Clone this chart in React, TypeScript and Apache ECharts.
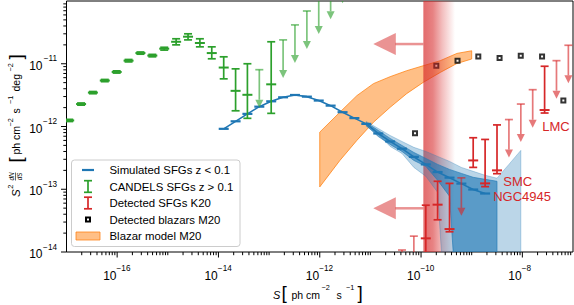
import React, { useEffect, useRef } from 'react';
import * as echarts from 'echarts';

const FONT = '"Liberation Sans", Arial, Helvetica, sans-serif';

// axis ranges in decades (log10 of the values)
const X_MIN = -17, X_MAX = -7, Y_MIN = -14, Y_MAX = -10;
const X_LABEL_DECADES = [-16, -14, -12, -10, -8];
const Y_LABEL_DECADES = [-14, -13, -12, -11];

// Simulated SFGs z < 0.1
const simS = [1.27e-14, 2.18e-14, 3.73e-14, 6.41e-14, 1.10e-13, 1.89e-13, 3.24e-13, 5.57e-13, 9.55e-13, 1.64e-12, 2.82e-12, 4.83e-12, 8.30e-12, 1.43e-11, 2.45e-11, 4.20e-11, 7.21e-11, 1.24e-10, 2.12e-10, 3.65e-10, 6.25e-10, 1.07e-9, 1.84e-9];
const simF = [9.18e-13, 1.21e-12, 1.59e-12, 2.07e-12, 2.52e-12, 2.92e-12, 3.18e-12, 2.99e-12, 2.59e-12, 2.15e-12, 1.69e-12, 1.36e-12, 1.10e-12, 7.74e-13, 5.78e-13, 4.43e-13, 3.28e-13, 2.49e-13, 1.88e-13, 1.53e-13, 1.23e-13, 9.9e-14, 8.55e-14];
const simInnerS = [8.30e-12, 1.43e-11, 2.45e-11, 4.20e-11, 7.21e-11, 1.24e-10, 2.12e-10, 3.65e-10, 6.25e-10, 1.07e-9, 1.84e-9, 3.16e-9];
const simInnerHi = [1.155e-12, 8.65e-13, 6.46e-13, 4.99e-13, 3.86e-13, 3.10e-13, 2.49e-13, 2.07e-13, 1.79e-13, 1.55e-13, 1.44e-13, 1.34e-13];
const simInnerLo = [1.04e-12, 6.93e-13, 5.18e-13, 4.01e-13, 2.88e-13, 2.32e-13, 1.39e-13, 7.74e-14, 0, 0, 0, 0];
const simOuterS = [8.30e-12, 1.43e-11, 2.45e-11, 4.20e-11, 7.21e-11, 1.24e-10, 2.12e-10, 3.65e-10, 6.25e-10, 1.07e-9, 1.84e-9, 3.16e-9, 5.43e-9, 9.33e-9];
const simOuterHi = [1.20e-12, 9.29e-13, 7.19e-13, 5.78e-13, 4.65e-13, 4.01e-13, 3.34e-13, 2.78e-13, 2.23e-13, 1.93e-13, 1.67e-13, 1.50e-13, 2.49e-13, 4.16e-13];
const simOuterLo = [1.0e-12, 7.46e-13, 4.82e-13, 3.72e-13, 2.23e-13, 1.61e-13, 8.95e-14, 0, 0, 0, 0, 0, 0, 0];

// CANDELS SFGs z > 0.1
const candelsS = [1.13e-17, 1.94e-17, 3.32e-17, 5.70e-17, 9.79e-17, 1.68e-16, 2.88e-16, 4.95e-16, 8.50e-16, 1.46e-15, 2.51e-15, 4.30e-15, 7.38e-15, 1.27e-14, 2.18e-14, 3.73e-14, 1.10e-13];
const candelsF = [1.25e-12, 2.28e-12, 3.47e-12, 5.4e-12, 7.4e-12, 1.12e-11, 1.48e-11, 1.35e-11, 1.74e-11, 2.24e-11, 2.7e-11, 2.14e-11, 1.48e-11, 8.7e-12, 3.7e-12, 3.2e-12, 4.7e-12];
const candelsLo = [1.20e-12, 2.19e-12, 3.33e-12, 5.18e-12, 7.1e-12, 1.07e-11, 1.42e-11, 1.29e-11, 1.65e-11, 2.0e-11, 2.4e-11, 1.86e-11, 1.2e-11, 5.75e-12, 1.78e-12, 1.35e-12, 1.62e-12];
const candelsHi = [1.30e-12, 2.37e-12, 3.61e-12, 5.62e-12, 7.7e-12, 1.17e-11, 1.54e-11, 1.41e-11, 1.83e-11, 2.5e-11, 3.0e-11, 2.5e-11, 1.86e-11, 1.29e-11, 8.3e-12, 1.0e-11, 2.24e-11];
const candelsLimS = [6.41e-14, 1.89e-13, 3.24e-13, 5.57e-13, 9.55e-13, 1.64e-12, 2.82e-12];
const candelsLimF = [8.04e-12, 2.40e-11, 4.16e-11, 6.93e-11, 1.20e-10, 2.07e-10, 3.72e-10];

// Detected SFGs K20
const k20S = [1.24e-10, 2.12e-10, 3.65e-10, 1.07e-9, 1.84e-9, 3.16e-9, 2.75e-8];
const k20F = [1.65e-14, 5.68e-14, 2.32e-14, 2.88e-13, 1.24e-13, 2.00e-13, 1.83e-12];
const k20Lo = [5.0e-15, 3.26e-14, 2.10e-14, 2.23e-13, 1.10e-13, 1.77e-13, 1.64e-12];
const k20Hi = [5.57e-14, 1.34e-13, 1.24e-13, 6.62e-13, 6.22e-13, 1.06e-12, 9.12e-12];
const k20LimS = [4.20e-11, 7.21e-11, 6.25e-10, 5.43e-9, 9.33e-9, 1.60e-8, 4.72e-8, 8.10e-8];
const k20LimF = [1.076e-14, 1.79e-14, 1.52e-13, 1.29e-12, 2.28e-12, 3.86e-12, 1.12e-11, 1.97e-11];

// Detected blazars M20
const blazarS = [7.6e-11, 2.0e-10, 5.25e-10, 1.35e-9, 3.55e-9, 9.3e-9, 2.45e-8, 6.45e-8];
const blazarF = [7.83e-13, 9.29e-12, 1.12e-11, 1.31e-11, 1.23e-11, 1.34e-11, 1.31e-11, 2.59e-12];

// Blazar model M20
const modelS = [1.0e-12, 2.5e-12, 5.4e-12, 1.15e-11, 2.45e-11, 5.2e-11, 1.1e-10, 2.4e-10, 5.1e-10, 1.0e-9];
const modelHi = [8.13e-13, 1.69e-12, 3.10e-12, 4.82e-12, 6.22e-12, 7.74e-12, 9.29e-12, 1.12e-11, 1.46e-11, 1.61e-11];
const modelLo = [1.09e-13, 2.88e-13, 6.0e-13, 1.17e-12, 2.02e-12, 3.34e-12, 5.04e-12, 7.28e-12, 1.01e-11, 1.19e-11];

// sensitivity band and arrows
const sensS = [1.11e-10, 4.68e-10];
const sensArrowF = [2.06e-11, 4.97e-14];
const sensArrowTipS = [1.14e-11, 1.14e-11];

// galaxy labels
const galaxyNames = ['LMC', 'SMC', 'NGC4945'];
const galaxyLabelS = [4.6e-8, 8.1e-9, 9.9e-9];
const galaxyLabelF = [1.0e-12, 1.32e-13, 7.8e-14];

const BLUE = '#1f77b4';
const GREEN = '#2ca02c';
const GREEN_L = 'rgba(44,160,44,0.62)';
const RED = '#d62728';
const RED_L = 'rgba(214,39,40,0.62)';

const lg = (v: number) => Math.log10(Math.max(v, 1e-18));

function errSeries(S: number[], F: number[], lo: number[], hi: number[], color: string, z: number) {
  return {
    type: 'custom', z, clip: true,
    data: S.map((s, i) => [lg(s), lg(F[i]), lg(lo[i]), lg(hi[i])]),
    renderItem: (p: any, api: any) => {
      const x = api.value(0);
      const c = api.coord([x, api.value(1)]);
      const l = api.coord([x, api.value(2)]);
      const h = api.coord([x, api.value(3)]);
      const st = { stroke: color, lineWidth: 1.7 };
      return {
        type: 'group', children: [
          { type: 'line', shape: { x1: c[0], y1: h[1], x2: c[0], y2: l[1] }, style: st },
          { type: 'line', shape: { x1: c[0] - 4, y1: h[1], x2: c[0] + 4, y2: h[1] }, style: st },
          { type: 'line', shape: { x1: c[0] - 4, y1: l[1], x2: c[0] + 4, y2: l[1] }, style: st },
          { type: 'line', shape: { x1: c[0] - 5, y1: c[1], x2: c[0] + 5, y2: c[1] }, style: { stroke: color, lineWidth: 2 } },
        ],
      };
    },
  };
}

function limSeries(S: number[], F: number[], color: string, z: number) {
  return {
    type: 'custom', z, clip: true,
    data: S.map((s, i) => [lg(s), lg(F[i])]),
    renderItem: (p: any, api: any) => {
      const c = api.coord([api.value(0), api.value(1)]);
      const L = 38, hl = 8, hw = 4;
      const st = { stroke: color, lineWidth: 1.7 };
      return {
        type: 'group', children: [
          { type: 'line', shape: { x1: c[0] - 4, y1: c[1], x2: c[0] + 4, y2: c[1] }, style: st },
          { type: 'line', shape: { x1: c[0], y1: c[1], x2: c[0], y2: c[1] + L - hl }, style: st },
          { type: 'polygon', shape: { points: [[c[0] - hw, c[1] + L - hl], [c[0] + hw, c[1] + L - hl], [c[0], c[1] + L]] }, style: { fill: color } },
        ],
      };
    },
  };
}

function bandSeries(S: number[], hi: number[], lo: number[], fill: string, stroke: string, z: number) {
  return {
    type: 'custom', z, clip: true,
    data: [[lg(S[0]), lg(hi[0])]],
    renderItem: (p: any, api: any) => {
      const pts: number[][] = [];
      for (let i = 0; i < S.length; i++) pts.push(api.coord([lg(S[i]), lg(hi[i])]));
      for (let i = S.length - 1; i >= 0; i--) pts.push(api.coord([lg(S[i]), Math.max(lg(lo[i]), -16)]));
      return { type: 'polygon', shape: { points: pts }, style: { fill, stroke, lineWidth: 1 } };
    },
  };
}

function buildOption() {
  // axis tick positions (major / minor), drawn through the axes' coordinates
  const ticks: number[][] = [];
  for (let n = X_MIN; n < X_MAX; n++) {
    if (n > X_MIN) ticks.push([n, X_LABEL_DECADES.includes(n) ? 5.5 : 3.2, 0]);
    for (let k = 2; k <= 9; k++) ticks.push([n + Math.log10(k), 3.2, 0]);
  }
  for (let n = Y_MIN; n < Y_MAX; n++) {
    if (n > Y_MIN || Y_LABEL_DECADES.includes(n)) ticks.push([n, 5.5, 1]);
    for (let k = 2; k <= 9; k++) ticks.push([n + Math.log10(k), 3.2, 1]);
  }
  const labels = [...X_LABEL_DECADES.map(v => [v, 0]), ...Y_LABEL_DECADES.map(v => [v, 1])];

  const sup = (n: number) => '\u2212' + Math.abs(n);

  const series: any[] = [
    bandSeries(modelS, modelHi, modelLo, 'rgba(255,127,14,0.5)', 'rgba(255,127,14,0.75)', 1),
    {
      type: 'scatter', z: 2, symbol: 'rect', symbolSize: 4,
      itemStyle: { color: '#fff', borderColor: '#000', borderWidth: 2 },
      data: blazarS.map((s, i) => [lg(s), lg(blazarF[i])]),
    },
    {
      type: 'custom', z: 3, clip: true,
      data: [[lg(sensS[0]), Y_MAX]],
      renderItem: (p: any, api: any) => {
        const a = api.coord([lg(sensS[0]), Y_MAX]);
        const b = api.coord([lg(sensS[1]), Y_MIN]);
        return {
          type: 'rect', shape: { x: a[0], y: a[1], width: b[0] - a[0], height: b[1] - a[1] },
          style: {
            fill: {
              type: 'linear', x: 0, y: 0, x2: 1, y2: 0, colorStops: [
                { offset: 0, color: 'rgba(214,39,40,0.68)' },
                { offset: 0.3, color: 'rgba(214,39,40,0.58)' },
                { offset: 0.6, color: 'rgba(214,39,40,0.3)' },
                { offset: 1, color: 'rgba(214,39,40,0)' },
              ],
            },
          },
        };
      },
    },
    {
      type: 'custom', z: 3, clip: true,
      data: sensArrowF.map((f, i) => [lg(sensS[0]), lg(f), lg(sensArrowTipS[i])]),
      renderItem: (p: any, api: any) => {
        const a = api.coord([api.value(0), api.value(1)]);
        const t = api.coord([api.value(2), api.value(1)]);
        const col = 'rgba(214,39,40,0.5)';
        return {
          type: 'group', children: [
            { type: 'line', shape: { x1: a[0], y1: a[1], x2: t[0] + 22, y2: t[1] }, style: { stroke: col, lineWidth: 2.5 } },
            { type: 'polygon', shape: { points: [[t[0], t[1]], [t[0] + 22.5, t[1] - 11], [t[0] + 22.5, t[1] + 11]] }, style: { fill: col } },
          ],
        };
      },
    },
    bandSeries(simOuterS, simOuterHi, simOuterLo, 'rgba(31,119,180,0.3)', 'rgba(31,119,180,0.3)', 4),
    bandSeries(simInnerS, simInnerHi, simInnerLo, 'rgba(31,119,180,0.62)', 'rgba(31,119,180,0.62)', 4),
    {
      type: 'line', z: 5, clip: true, symbol: 'rect', symbolSize: [10, 2.2], showSymbol: true,
      itemStyle: { color: BLUE }, lineStyle: { color: BLUE, width: 1.6 },
      data: simS.map((s, i) => [lg(s), lg(simF[i])]),
    },
    errSeries(candelsS, candelsF, candelsLo, candelsHi, GREEN, 6),
    limSeries(candelsLimS, candelsLimF, GREEN_L, 6),
    errSeries(k20S, k20F, k20Lo, k20Hi, RED, 6),
    limSeries(k20LimS, k20LimF, RED_L, 6),
    {
      type: 'custom', z: 7,
      data: galaxyNames.map((n, i) => [lg(galaxyLabelS[i]), lg(galaxyLabelF[i]), i]),
      renderItem: (p: any, api: any) => {
        const c = api.coord([api.value(0), api.value(1)]);
        return {
          type: 'text', x: c[0], y: c[1],
          style: { text: galaxyNames[api.value(2)], fill: RED, fontSize: 13, fontFamily: FONT, align: 'center', verticalAlign: 'middle' },
        };
      },
    },
    {
      type: 'custom', z: 8, clip: false,
      data: ticks,
      renderItem: (p: any, api: any) => {
        const v = api.value(0), len = api.value(1), ax = api.value(2);
        if (ax === 0) {
          const c = api.coord([v, Y_MIN]);
          return { type: 'line', shape: { x1: c[0], y1: c[1], x2: c[0], y2: c[1] + len }, style: { stroke: '#000', lineWidth: 1 } };
        }
        const c = api.coord([X_MIN, v]);
        return { type: 'line', shape: { x1: c[0], y1: c[1], x2: c[0] - len, y2: c[1] }, style: { stroke: '#000', lineWidth: 1 } };
      },
    },
    {
      type: 'custom', z: 8, clip: false,
      data: labels,
      renderItem: (p: any, api: any) => {
        const v = api.value(0), ax = api.value(1);
        const base = { fill: '#000', fontFamily: FONT, verticalAlign: 'middle' };
        if (ax === 0) {
          const c = api.coord([v, Y_MIN]);
          return {
            type: 'group', children: [
              { type: 'text', x: c[0] - 14, y: c[1] + 24, style: { ...base, text: '10', fontSize: 12, align: 'left' } },
              { type: 'text', x: c[0] - 0.6, y: c[1] + 16.5, style: { ...base, text: sup(v), fontSize: 8.2, align: 'left' } },
            ],
          };
        }
        const c = api.coord([X_MIN, v]);
        return {
          type: 'group', children: [
            { type: 'text', x: c[0] - 24, y: c[1] + 2, style: { ...base, text: '10', fontSize: 12, align: 'right' } },
            { type: 'text', x: c[0] - 9.5, y: c[1] - 5, style: { ...base, text: sup(v), fontSize: 8.2, align: 'right' } },
          ],
        };
      },
    },
  ];

  const t = (text: string, x: number, y: number, fontSize: number, extra: any = {}) => ({
    type: 'text', x, y,
    style: { text, fontSize, fontFamily: FONT, fill: '#000', align: 'left', verticalAlign: 'middle', ...extra },
  });

  const legendY = [170, 186.5, 203, 219.5, 236];
  const legendNames = ['Simulated SFGs z < 0.1', 'CANDELS SFGs z > 0.1', 'Detected SFGs K20', 'Detected blazars M20', 'Blazar model M20'];
  const hx = 88;
  const errHandle = (y: number, color: string) => [
    { type: 'line', shape: { x1: hx, y1: y - 5.8, x2: hx, y2: y + 5.8 }, style: { stroke: color, lineWidth: 1.7 } },
    { type: 'line', shape: { x1: hx - 4, y1: y - 5.8, x2: hx + 4, y2: y - 5.8 }, style: { stroke: color, lineWidth: 1.7 } },
    { type: 'line', shape: { x1: hx - 4, y1: y + 5.8, x2: hx + 4, y2: y + 5.8 }, style: { stroke: color, lineWidth: 1.7 } },
  ];

  const graphic: any[] = [
    {
      type: 'group', z: 20, children: [
        { type: 'rect', shape: { x: 71.5, y: 160, width: 168.5, height: 86.5, r: 3 }, style: { fill: 'rgba(255,255,255,0.8)', stroke: '#cccccc', lineWidth: 1 } },
        { type: 'line', shape: { x1: 82, y1: legendY[0], x2: 94, y2: legendY[0] }, style: { stroke: BLUE, lineWidth: 2.2 } },
        ...errHandle(legendY[1], GREEN),
        ...errHandle(legendY[2], RED),
        { type: 'rect', shape: { x: hx - 2, y: legendY[3] - 2, width: 4, height: 4 }, style: { fill: '#fff', stroke: '#000', lineWidth: 2 } },
        { type: 'rect', shape: { x: 76, y: legendY[4] - 4, width: 24, height: 8 }, style: { fill: 'rgba(255,127,14,0.5)', stroke: 'rgba(255,127,14,0.75)', lineWidth: 1 } },
        ...legendNames.map((n, i) => t(n, 109.5, legendY[i], 11.4)),
      ],
    },
    // x-axis title
    t('S', 273, 295, 11, { fontStyle: 'italic' }),
    t('[', 281.5, 292, 19),
    t('ph cm', 291.5, 295, 10.5),
    t('\u22122', 321.5, 287, 7.3),
    t('s', 336.5, 295, 10.5),
    t('\u22121', 346, 287, 7.3),
    t(']', 357.5, 292, 19),
    // y-axis title
    {
      type: 'group', x: 15.5, y: 197.5, rotation: Math.PI / 2, children: [
        t('S', 0.5, 0, 11.5, { fontStyle: 'italic' }),
        t('2', 8.8, -5, 7.5),
        t('dN', 21, -3.7, 6.3, { fontStyle: 'italic', align: 'center' }),
        { type: 'line', shape: { x1: 17, y1: 0, x2: 25, y2: 0 }, style: { stroke: '#000', lineWidth: 0.6 } },
        t('dS', 21, 3.9, 6.3, { fontStyle: 'italic', align: 'center' }),
        t('[', 35, -0.5, 19),
        t('ph cm', 43, 0, 10.5),
        t('\u22122', 71, -5.5, 7.3),
        t('s', 84, 0, 10.5),
        t('\u22121', 93.5, -5.5, 7.3),
        t('deg', 106, 0, 10.5),
        t('\u22122', 126, -5.5, 7.3),
        t(']', 138, -0.5, 19),
      ],
    },
  ];

  return {
    animation: false,
    textStyle: { fontFamily: FONT },
    grid: { left: 66.5, top: 1, width: 506.5, height: 251, show: true, borderColor: '#000', borderWidth: 1, backgroundColor: 'transparent' },
    xAxis: {
      type: 'value', min: X_MIN, max: X_MAX, interval: 1,
      axisLine: { show: false }, axisTick: { show: false }, splitLine: { show: false }, axisLabel: { show: false },
    },
    yAxis: {
      type: 'value', min: Y_MIN, max: Y_MAX, interval: 1,
      axisLine: { show: false }, axisTick: { show: false }, splitLine: { show: false }, axisLabel: { show: false },
    },
    series,
    graphic,
  };
}

export default function App() {
  const ref = useRef<HTMLDivElement>(null);
  useEffect(() => {
    if (!ref.current) return;
    const chart = echarts.init(ref.current, undefined, { renderer: 'svg' });
    chart.setOption(buildOption() as any);
    return () => chart.dispose();
  }, []);
  return <div ref={ref} style={{ position: 'absolute', left: 0, top: 0, width: 574, height: 305, background: '#fff' }} />;
}
